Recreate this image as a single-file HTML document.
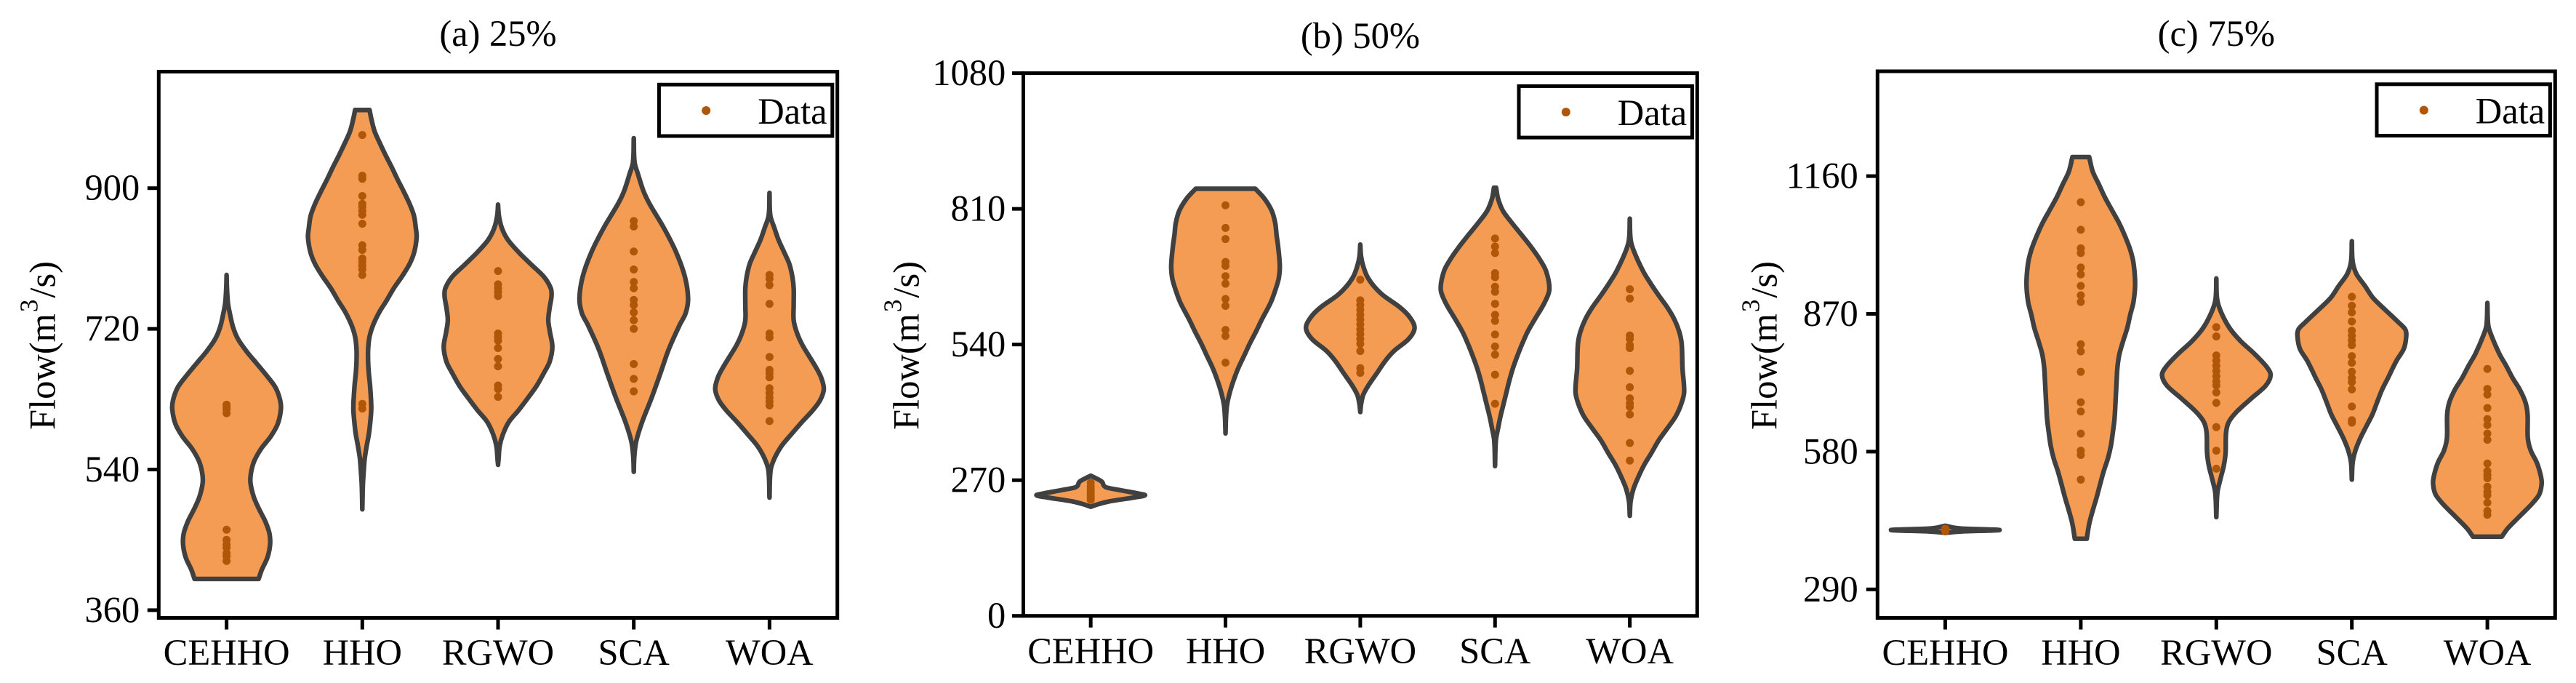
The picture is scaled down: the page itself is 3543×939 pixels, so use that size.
<!DOCTYPE html>
<html lang="en">
<head>
<meta charset="utf-8">
<title>Flow violin plots</title>
<style>
html,body{margin:0;padding:0;background:#fff;}
svg{display:block;}
text{font-family:"Liberation Serif","Times New Roman",serif;fill:#000;}
</style>
</head>
<body>
<svg id="chart" xmlns="http://www.w3.org/2000/svg" width="3543" height="939" viewBox="0 0 3543 939"></svg>
<script>
const categories = ['CEHHO', 'HHO', 'RGWO', 'SCA', 'WOA'];
const titles = ['(a) 25%', '(b) 50%', '(c) 75%'];
const legendLabel = 'Data';

const ticksA = [360, 540, 720, 900];
const ticksB = [0, 270, 540, 810, 1080];
const ticksC = [290, 580, 870, 1160];

/* Panel (a) 25% */
const aCehhoFlow = [789,775,753,738,722,707,691,676,660,645,629,617,598,582,567,551,536,523,505,489,474,458,443,427,412,400];
const aCehhoDensity = [0,0.005,0.025,0.065,0.12,0.21,0.37,0.55,0.74,0.90,0.985,1,0.94,0.81,0.64,0.51,0.45,0.44,0.50,0.60,0.71,0.79,0.80,0.75,0.65,0.59];
const aCehhoPoints = [623,620,617,612,463,450,444,440,433,429,423];

const aHhoFlow = [1000,989,973,958,942,927,911,896,880,865,849,837,818,803,787,772,756,741,725,710,694,678,663,647,619,601,585,570,554,542,520,489];
const aHhoDensity = [0.133,0.165,0.225,0.32,0.43,0.54,0.65,0.76,0.87,0.95,0.985,1,0.955,0.87,0.73,0.58,0.445,0.31,0.20,0.133,0.107,0.107,0.12,0.143,0.165,0.147,0.12,0.08,0.044,0.03,0.01,0];
const aHhoPoints = [968,916,912,890,880,876,871,866,854.5,827,821,810,806,801,796,789,624,618];

const aRgwoFlow = [879,865,849,834,818,803,787,772,762,747,731,716,697,678,663,647,632,616,601,585,570,554,546];
const aRgwoDensity = [0,0.015,0.07,0.18,0.38,0.60,0.84,0.97,0.985,0.95,0.925,0.955,1,0.95,0.84,0.71,0.555,0.38,0.20,0.09,0.03,0.01,0];
const aRgwoPoints = [794,777,772,767,762,714,709.5,705,695.5,681.5,672,647.5,643,633];

const aScaFlow = [964,933,917.5,896,880,849,818,787,759,740,725,694,663,632,601,576,557,537];
const aScaDensity = [0,0.015,0.08,0.18,0.29,0.555,0.78,0.94,1,0.955,0.845,0.645,0.49,0.33,0.155,0.045,0.01,0];
const aScaPoints = [858,851,819,796,780,772,757,750.5,741,731,720,675,656,640];

const aWoaFlow = [894,865,849,834,818,803,787,772,750,731,716,700,685,669,657,643,629,616,601,585,570,554,539,504];
const aWoaDensity = [0,0.015,0.09,0.165,0.27,0.365,0.42,0.445,0.445,0.445,0.50,0.60,0.73,0.87,0.955,1,0.935,0.80,0.60,0.40,0.22,0.09,0.02,0];
const aWoaPoints = [789,784,776,752,714,709,684,667.5,663,658,644,638,632,627,622,602];

/* Panel (b) 50% */
const bCehhoFlow = [279,267.5,256,250,244,240,235.6,228,221,217];
const bCehhoDensity = [0,0.2,0.28,0.55,0.85,1,0.8,0.35,0.1,0];
const bCehhoPoints = [265,258,252,246,241,236,231];

const bHhoFlow = [850,830.5,806.4,782,758,734,696,671.5,647.5,623,590,565.5,541.4,517,493,469,445,421,397,363];
const bHhoDensity = [0.55,0.715,0.85,0.915,0.94,0.97,1,0.98,0.915,0.83,0.67,0.56,0.445,0.34,0.235,0.15,0.08,0.03,0.01,0];
const bHhoPoints = [817,772,750,704.3,696.6,676,661,630.6,617,569,557,504];

const bRgwoFlow = [739,715,696,676,657,638,614,594.4,572.7,551,527,508,483.6,459.5,440,421,405.6];
const bRgwoDensity = [0,0.015,0.055,0.125,0.245,0.42,0.73,0.91,1,0.89,0.62,0.465,0.31,0.155,0.055,0.015,0];
const bRgwoPoints = [669,628,618.5,609,599,589.6,580,570,560.7,551,541.4,527,493,483.6];

const bScaFlow = [852,830.5,806,782,758,734,710,686,650,623,590,565.5,541.4,517,493,469,445,421,397,373,349,298];
const bScaDensity = [0.02,0.055,0.145,0.31,0.49,0.665,0.82,0.94,1,0.91,0.73,0.60,0.50,0.41,0.33,0.265,0.21,0.155,0.10,0.055,0.015,0];
const bScaPoints = [751,735,722,682,674,655,645,621,599,587,560,536,520,480,422];

const bWoaFlow = [790.5,748.6,724.5,686,662,638,614,590,565.5,541.4,493,445,421,397,373,349,324.6,300.5,276,252,228,199];
const bWoaDensity = [0,0.015,0.08,0.245,0.38,0.53,0.69,0.82,0.91,0.955,0.97,1,0.945,0.845,0.69,0.53,0.40,0.265,0.155,0.065,0.015,0];
const bWoaPoints = [650,631.5,558,551,539,533,487.5,455,433,423,416,400.8,344,309];

/* Panel (c) 75% */
const cCehhoFlow = [424,418,415,412,409];
const cCehhoDensity = [0,0.3,1,0.3,0];
const cCehhoPoints = [418,412];

const cHhoFlow = [1200,1169.6,1142,1115,1087,1060,1032,1005,977,933.5,895,868,840,813,785,758,730,675.5,648,620.6,593,566,538,511,483,456,428,396.6];
const cHhoDensity = [0.155,0.22,0.335,0.445,0.58,0.71,0.82,0.91,0.97,1,0.97,0.91,0.855,0.78,0.71,0.675,0.66,0.635,0.62,0.59,0.555,0.50,0.42,0.355,0.29,0.22,0.155,0.11];
const cHhoPoints = [1105,1047,1008,998,967.6,953,929,909,895,806,791,748,684,664.5,618,582,573,521];

const cRgwoFlow = [944.5,900.6,873,840,813,785,758,741,719,692,664.5,642.5,620.6,576.7,549,522,494,442];
const cRgwoDensity = [0,0.015,0.09,0.245,0.445,0.71,0.93,1,0.91,0.645,0.38,0.23,0.18,0.17,0.135,0.075,0.02,0];
const cRgwoPoints = [842,822.6,782.6,771.6,760.6,749.6,738.6,727.6,719.4,704.6,682.6,631.6,582,544];

const cScaFlow = [1023,980,954,929,903,878,852,837,821,796,771,735,710,684,658.6,633,608,582,557,521];
const cScaDensity = [0,0.015,0.085,0.24,0.395,0.62,0.86,0.985,1,0.955,0.82,0.665,0.555,0.465,0.38,0.265,0.155,0.065,0.015,0];
const cScaPoints = [906,887,873,854,834.5,824,814,804,781,767,748,735,726.5,711,675,646,641];

const cWoaFlow = [893,847,827,786,761,735,710,684,658.6,608,582,557,531,513,490,470,444.5,419,401];
const cWoaDensity = [0,0.015,0.065,0.22,0.345,0.465,0.60,0.70,0.74,0.745,0.80,0.91,0.98,1,0.955,0.82,0.60,0.38,0.265];
const cWoaPoints = [754,712,700,672,648.5,636,618,605,555,539,531,524,506,495.5,488,472.5,455,447];

const NS = 'http://www.w3.org/2000/svg';
const svg = document.getElementById('chart');
const FILL = '#F49C54', OUTLINE = '#404040', DOT = '#B05608';
const HALF_WIDTH = 74.7, FONT = 50.5;

function make(parent, tag, attrs, txt) {
  const el = document.createElementNS(NS, tag);
  for (const k in attrs) el.setAttribute(k, attrs[k]);
  if (txt !== undefined) el.textContent = txt;
  parent.appendChild(el);
  return el;
}

function linearScale(v0, p0, v1, p1) {
  return v => p0 + (v - v0) * (p1 - p0) / (v1 - v0);
}

/* Hermite curve through pixel points, with x treated as a function of y */
function smooth(pts) {
  const n = pts.length;
  const slope = i => {
    const a = pts[Math.max(i - 1, 0)], b = pts[Math.min(i + 1, n - 1)];
    return (b[0] - a[0]) / (b[1] - a[1]);
  };
  let d = '';
  for (let i = 0; i < n - 1; i++) {
    const p = pts[i], q = pts[i + 1], h = (q[1] - p[1]) / 3;
    const c1x = p[0] + slope(i) * h, c1y = p[1] + h;
    const c2x = q[0] - slope(i + 1) * h, c2y = q[1] - h;
    d += 'C' + c1x.toFixed(2) + ' ' + c1y.toFixed(2) + ' ' + c2x.toFixed(2) + ' ' + c2y.toFixed(2) + ' ' + q[0].toFixed(2) + ' ' + q[1].toFixed(2);
  }
  return d;
}

const panels = [
  { left: 218.3, right: 1151.7, top: 98.5, bottom: 849.5, ticks: ticksA, title: titles[0], titleBase: 63,
    scale: linearScale(720, 452.1, 540, 645.5), tickEnd: 192.3, labelX: 75.5, xBase: 914,
    violins: [[aCehhoFlow, aCehhoDensity, aCehhoPoints], [aHhoFlow, aHhoDensity, aHhoPoints], [aRgwoFlow, aRgwoDensity, aRgwoPoints], [aScaFlow, aScaDensity, aScaPoints], [aWoaFlow, aWoaDensity, aWoaPoints]] },
  { left: 1407.5, right: 2334.3, top: 100.6, bottom: 846.7, ticks: ticksB, title: titles[1], titleBase: 66,
    scale: linearScale(0, 846.7, 1080, 100.6), tickEnd: 1383.3, labelX: 1263.5, xBase: 912,
    violins: [[bCehhoFlow, bCehhoDensity, bCehhoPoints], [bHhoFlow, bHhoDensity, bHhoPoints], [bRgwoFlow, bRgwoDensity, bRgwoPoints], [bScaFlow, bScaDensity, bScaPoints], [bWoaFlow, bWoaDensity, bWoaPoints]] },
  { left: 2582.3, right: 3514.3, top: 98, bottom: 849.5, ticks: ticksC, title: titles[2], titleBase: 63,
    scale: linearScale(290, 810.3, 1160, 242.1), tickEnd: 2555.8, labelX: 2443.5, xBase: 914,
    violins: [[cCehhoFlow, cCehhoDensity, cCehhoPoints], [cHhoFlow, cHhoDensity, cHhoPoints], [cRgwoFlow, cRgwoDensity, cRgwoPoints], [cScaFlow, cScaDensity, cScaPoints], [cWoaFlow, cWoaDensity, cWoaPoints]] }
];

panels.forEach(function (p) {
  const g = make(svg, 'g', {});
  
  

  const band = (p.right - p.left) / categories.length;
  const xPos = i => p.left + band * (i + 0.5);

  const title = make(g, 'text', { x: (p.left + p.right) / 2, y: p.titleBase, 'text-anchor': 'middle', 'font-size': FONT }, p.title);
  
  

  /* violins */
  p.violins.forEach(function (v, i) {
    const cx = xPos(i);
    const left = v[0].map((f, k) => [cx - v[1][k] * HALF_WIDTH, p.scale(f)]);
    const right = v[0].map((f, k) => [cx + v[1][k] * HALF_WIDTH, p.scale(f)]).reverse();
    const d = 'M' + left[0][0].toFixed(2) + ' ' + left[0][1].toFixed(2) + smooth(left) +
      'L' + right[0][0].toFixed(2) + ' ' + right[0][1].toFixed(2) + smooth(right) + 'Z';
    const body = make(g, 'path', { d: d, fill: FILL, stroke: OUTLINE, 'stroke-width': 6.4, 'stroke-linejoin': 'round' });
    
    
    v[2].forEach(function (val) {
      const dot = make(g, 'circle', { cx: cx, cy: p.scale(val), r: 5.5, fill: DOT });
      
      
    });
  });

  /* frame */
  const frame = make(g, 'rect', { x: p.left, y: p.top, width: p.right - p.left, height: p.bottom - p.top, fill: 'none', stroke: '#000', 'stroke-width': 5 });
  
  

  /* y ticks */
  p.ticks.forEach(function (t) {
    const y = p.scale(t);
    const tick = make(g, 'line', { x1: p.left - 15.5, x2: p.left, y1: y, y2: y, stroke: '#000', 'stroke-width': 5 });
    
    
    const lab = make(g, 'text', { x: p.tickEnd, y: y + 16.5, 'text-anchor': 'end', 'font-size': FONT }, String(t));
    
    
  });

  /* x ticks */
  categories.forEach(function (c, i) {
    const x = xPos(i);
    const tick = make(g, 'line', { x1: x, x2: x, y1: p.bottom, y2: p.bottom + 16, stroke: '#000', 'stroke-width': 5 });
    
    
    const lab = make(g, 'text', { x: x, y: p.xBase, 'text-anchor': 'middle', 'font-size': FONT }, c);
    
    
  });

  /* y-axis title */
  const yTitle = make(g, 'text', { transform: 'translate(' + p.labelX + ',591) rotate(-90)', 'font-size': FONT });
  
  
  yTitle.appendChild(document.createTextNode('Flow(m'));
  make(yTitle, 'tspan', { dx: 2, dy: -24, 'font-size': 35 }, '3');
  make(yTitle, 'tspan', { dx: 2, dy: 24 }, '/s)');

  /* legend */
  const legendGroup = make(g, 'g', {});
  
  
  const box = make(legendGroup, 'rect', { x: p.right - 245.3, y: p.top + 17.8, width: 238.4, height: 70.7, fill: '#fff', stroke: '#000', 'stroke-width': 5 });
  
  
  const mark = make(legendGroup, 'circle', { cx: p.right - 180.5, cy: p.top + 53.5, r: 6, fill: DOT });
  
  
  const entry = make(legendGroup, 'text', { x: p.right - 109.5, y: p.top + 71.5, 'font-size': FONT }, legendLabel);
  
  
});
</script>
</body>
</html>
